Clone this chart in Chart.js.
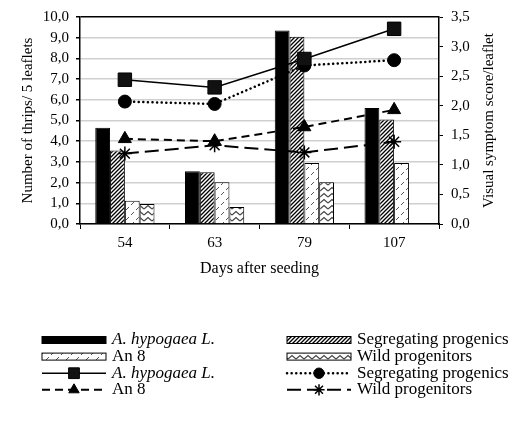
<!DOCTYPE html>
<html>
<head>
<meta charset="utf-8">
<script src="https://cdn.jsdelivr.net/npm/chart.js@4.4.0/dist/chart.umd.min.js"></script>
<style>
  html, body { margin: 0; padding: 0; background: #fff; }
  #wrap { width: 521px; height: 421px; }
</style>
</head>
<body>
<div id="wrap"><canvas id="chart"></canvas></div>
<script>
// Days after seeding
const days = ['54', '63', '79', '107'];

// Number of thrips / 5 leaflets (bars, left axis)
const thripsHypogaea = [4.65, 2.55, 9.35, 5.6];
const thripsSegregating = [3.55, 2.5, 9.05, 5.05];
const thripsAn8 = [1.12, 2.02, 2.95, 2.95];
const thripsWild = [0.97, 0.82, 2.02, null];

// Visual symptom score / leaflet (lines, right axis)
const scoreHypogaea = [2.44, 2.31, 2.79, 3.30];
const scoreSegregating = [2.07, 2.03, 2.68, 2.77];
const scoreAn8 = [1.44, 1.40, 1.64, 1.93];
const scoreWild = [1.19, 1.33, 1.21, 1.39];

const italicLabels = ['A. hypogaea L.'];
const rightTitle = 'Visual symptom score/leaflet';
const FONT = 'Liberation Serif';

function makePattern(w, h, draw) {
  const c = document.createElement('canvas');
  c.width = w; c.height = h;
  const g = c.getContext('2d');
  g.fillStyle = '#fff';
  g.fillRect(0, 0, w, h);
  draw(g);
  return g.createPattern(c, 'repeat');
}

// diagonal hatch
const hatch = makePattern(4, 4, g => {
  g.strokeStyle = '#000';
  g.lineWidth = 1.3;
  g.beginPath();
  g.moveTo(0, 4); g.lineTo(4, 0);
  g.moveTo(-1, 1); g.lineTo(1, -1);
  g.moveTo(3, 5); g.lineTo(5, 3);
  g.stroke();
});

// sparse little dashes
const dots = makePattern(10, 10, g => {
  g.strokeStyle = '#555';
  g.lineWidth = 1;
  g.beginPath();
  g.moveTo(1, 5); g.lineTo(4, 2);
  g.moveTo(6, 10); g.lineTo(9, 7);
  g.stroke();
});

// zigzag
const zigzag = makePattern(8, 6, g => {
  g.strokeStyle = '#444';
  g.lineWidth = 1.2;
  g.beginPath();
  g.moveTo(0, 5); g.lineTo(4, 1.5); g.lineTo(8, 5);
  g.stroke();
});

function fmt(v) {
  return v.toFixed(1).replace('.', ',');
}

// legend under the chart (two columns, four rows) + right axis title read bottom-up
const customLegend = {
  id: 'customLegend',
  afterDraw(chart) {
    const ctx = chart.ctx;
    const area = chart.chartArea;

    ctx.save();
    ctx.translate(489, (area.top + area.bottom) / 2);
    ctx.rotate(-Math.PI / 2);
    ctx.fillStyle = '#000';
    ctx.font = '15px "' + FONT + '"';
    ctx.textAlign = 'center';
    ctx.textBaseline = 'middle';
    ctx.fillText(rightTitle, 0, 0);
    ctx.restore();

    const colX = [42, 287];
    const rowY0 = 340, rowStep = 16.6, swW = 64;
    chart.data.datasets.forEach((ds, i) => {
      const x = colX[i % 2];
      const y = rowY0 + Math.floor(i / 2) * rowStep;
      ctx.save();
      if (ds.type === 'bar') {
        ctx.fillStyle = ds.backgroundColor;
        ctx.fillRect(x, y - 3.5, swW, 7);
        ctx.strokeStyle = '#000';
        ctx.lineWidth = 1;
        ctx.strokeRect(x, y - 3.5, swW, 7);
      } else {
        ctx.strokeStyle = ds.borderColor;
        ctx.lineWidth = ds.borderWidth;
        ctx.setLineDash(ds.borderDash || []);
        ctx.lineCap = ds.borderCapStyle || 'butt';
        ctx.beginPath();
        ctx.moveTo(x, y); ctx.lineTo(x + swW, y);
        ctx.stroke();
        ctx.setLineDash([]);
        ctx.fillStyle = ds.pointBackgroundColor;
        ctx.strokeStyle = ds.pointBorderColor;
        ctx.lineWidth = ds.pointBorderWidth;
        Chart.helpers.drawPoint(ctx, {
          pointStyle: ds.pointStyle, radius: ds.pointRadius * 0.8,
          rotation: 0, borderWidth: ds.pointBorderWidth
        }, x + swW / 2, y);
      }
      ctx.fillStyle = '#000';
      ctx.textBaseline = 'middle';
      ctx.font = (italicLabels.includes(ds.label) ? 'italic ' : '') + '17px "' + FONT + '"';
      ctx.fillText(ds.label, x + swW + 6, y);
      ctx.restore();
    });
  }
};

new Chart(document.getElementById('chart'), {
  type: 'bar',
  data: {
    labels: days,
    datasets: [
      { type: 'bar', label: 'A. hypogaea L.', data: thripsHypogaea, backgroundColor: '#000', borderColor: '#000', borderWidth: 1, yAxisID: 'y', order: 2 },
      { type: 'bar', label: 'Segregating progenics', data: thripsSegregating, backgroundColor: hatch, borderColor: '#000', borderWidth: 1, yAxisID: 'y', order: 2 },
      { type: 'bar', label: 'An 8', data: thripsAn8, backgroundColor: dots, borderColor: '#000', borderWidth: 1, yAxisID: 'y', order: 2 },
      { type: 'bar', label: 'Wild progenitors', data: thripsWild, backgroundColor: zigzag, borderColor: '#000', borderWidth: 1, yAxisID: 'y', order: 2 },
      { type: 'line', label: 'A. hypogaea L.', data: scoreHypogaea, borderColor: '#000', borderWidth: 1.5,
        pointStyle: 'rect', pointRadius: 9.5, pointBackgroundColor: '#111', pointBorderColor: '#000', pointBorderWidth: 1,
        yAxisID: 'y1', order: 1 },
      { type: 'line', label: 'Segregating progenics', data: scoreSegregating, borderColor: '#000', borderWidth: 2.5,
        borderDash: [0.1, 4.5], borderCapStyle: 'round',
        pointStyle: 'circle', pointRadius: 6.5, pointBackgroundColor: '#000', pointBorderColor: '#000', pointBorderWidth: 1,
        yAxisID: 'y1', order: 1 },
      { type: 'line', label: 'An 8', data: scoreAn8, borderColor: '#000', borderWidth: 2,
        borderDash: [8, 5],
        pointStyle: 'triangle', pointRadius: 7.5, pointBackgroundColor: '#000', pointBorderColor: '#000', pointBorderWidth: 1,
        yAxisID: 'y1', order: 1 },
      { type: 'line', label: 'Wild progenitors', data: scoreWild, borderColor: '#000', borderWidth: 2,
        borderDash: [14, 6],
        pointStyle: 'star', pointRadius: 7, pointBackgroundColor: '#000', pointBorderColor: '#000', pointBorderWidth: 1.5,
        yAxisID: 'y1', order: 1 }
    ]
  },
  options: {
    responsive: true,
    maintainAspectRatio: false,
    animation: false,
    layout: { padding: { top: 13, bottom: 137, left: 0, right: 0 } },
    plugins: { legend: { display: false }, tooltip: { enabled: false } },
    datasets: { bar: { categoryPercentage: 0.66, barPercentage: 1 } },
    scales: {
      x: {
        afterFit: s => { s.height = 60; },
        grid: { offset: true, drawOnChartArea: false, color: '#000', tickLength: 5 },
        border: { color: '#000', width: 1.5 },
        ticks: { color: '#000', padding: 5, font: { family: FONT, size: 15 } },
        title: { display: true, text: 'Days after seeding', color: '#000',
          font: { family: FONT, size: 16 }, padding: { top: 4, bottom: 6 } }
      },
      y: {
        position: 'left',
        min: 0, max: 10,
        afterFit: s => { s.width = 80; },
        ticks: { stepSize: 1, autoSkip: false, color: '#000', padding: 7, callback: v => fmt(v), font: { family: FONT, size: 15 } },
        grid: {
          color: c => c.tick.value === 10 ? '#000' : '#cfcfcf',
          lineWidth: 1.5,
          tickColor: '#000', tickLength: 4
        },
        border: { color: '#000', width: 1.5 },
        title: { display: true, text: 'Number of thrips/ 5 leaflets', color: '#000',
          font: { family: FONT, size: 15 }, padding: { top: 19, bottom: 0 } }
      },
      y1: {
        position: 'right',
        min: 0, max: 3.5,
        afterFit: s => { s.width = 82; },
        ticks: { stepSize: 0.5, autoSkip: false, color: '#000', padding: 8, callback: v => fmt(v), font: { family: FONT, size: 15 } },
        grid: { drawOnChartArea: false, color: '#000', tickLength: 4 },
        border: { color: '#000', width: 1.5 },
        title: { display: false }
      }
    }
  },
  plugins: [customLegend]
});
</script>
</body>
</html>
